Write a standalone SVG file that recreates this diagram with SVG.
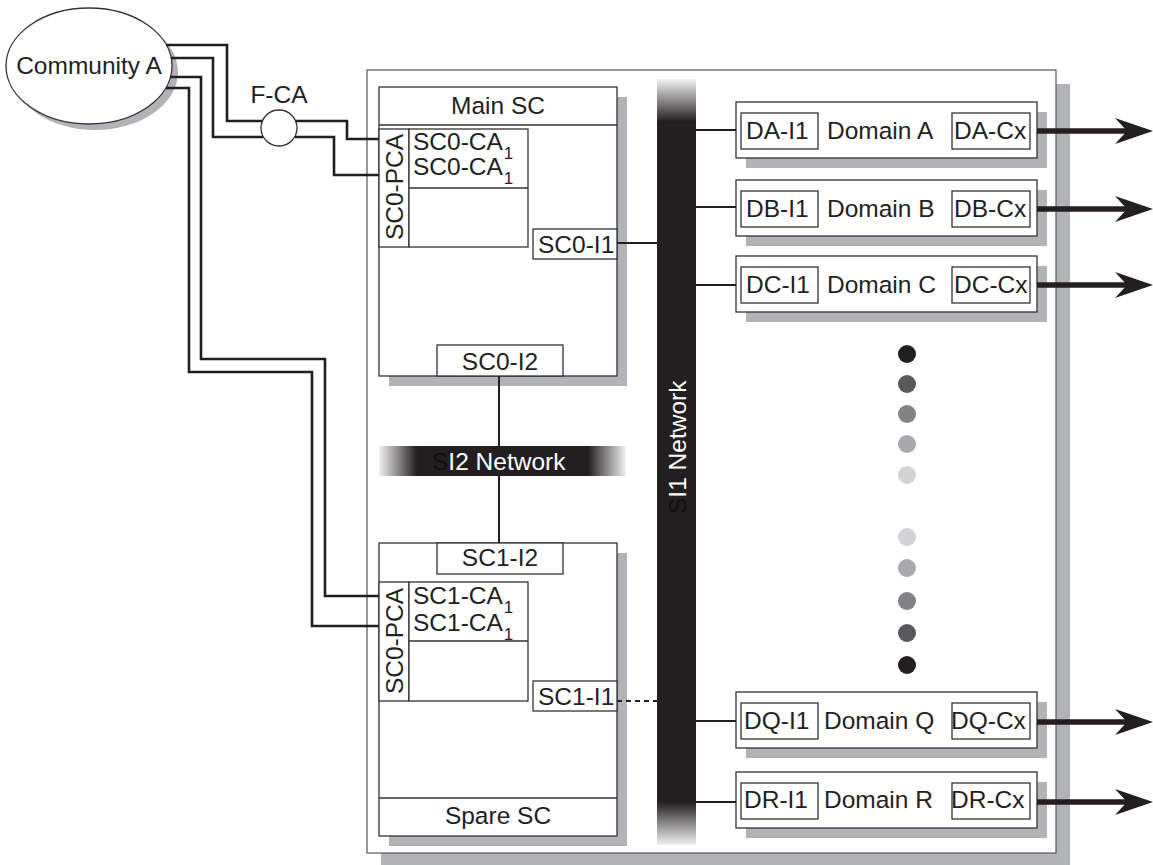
<svg xmlns="http://www.w3.org/2000/svg" width="1153" height="865" viewBox="0 0 1153 865">
<style>
text{font-family:"Liberation Sans",Arial,Helvetica,sans-serif;font-size:24.5px;fill:#231f20}
.box{fill:#fff;stroke:#333;stroke-width:1.3}
.sh{fill:#b1b3b6}
.wire{fill:none;stroke:#231f20;stroke-width:2.6}
.link{fill:none;stroke:#231f20;stroke-width:2}
.out{fill:none;stroke:#231f20;stroke-width:5.5}
.wt{fill:#fff}
.dk{fill:#111}
.mid{text-anchor:middle}
.sub{font-size:17px}
</style>
<defs>
<linearGradient id="g1" x1="0" y1="79" x2="0" y2="845" gradientUnits="userSpaceOnUse">
<stop offset="0" stop-color="#f2f2f2"/>
<stop offset="0.056" stop-color="#231f20"/>
<stop offset="0.944" stop-color="#231f20"/>
<stop offset="1" stop-color="#f2f2f2"/>
</linearGradient>
<linearGradient id="g2" x1="379" y1="0" x2="626" y2="0" gradientUnits="userSpaceOnUse">
<stop offset="0" stop-color="#f2f2f2"/>
<stop offset="0.154" stop-color="#231f20"/>
<stop offset="0.846" stop-color="#231f20"/>
<stop offset="1" stop-color="#f2f2f2"/>
</linearGradient>
<marker id="ah" markerUnits="userSpaceOnUse" markerWidth="40" markerHeight="30" viewBox="0 -15 40 30" refX="15" refY="0" orient="auto">
<path d="M0,-13 L38,0 L0,13 L12,0 z" fill="#231f20"/>
</marker>
</defs>

<g id="container">
<rect class="sh" x="381" y="84" width="689" height="783"/>
<rect x="367" y="70" width="689" height="783" fill="#fff" stroke="#555" stroke-width="1.2"/>
</g>

<g id="community-a">
<ellipse cx="95" cy="72" rx="83" ry="58" class="sh"/>
<ellipse cx="89" cy="66" rx="83" ry="58" class="box"/>
<text x="89" y="74" class="mid">Community A</text>
</g>

<g id="f-ca">
<circle cx="279" cy="128" r="18" class="box"/>
<text x="279" y="103" class="mid">F-CA</text>
</g>

<g id="main-sc">
<rect class="sh" x="389" y="97" width="238" height="289"/>
<rect class="box" x="379" y="87" width="238" height="289"/>
<line x1="379" y1="125" x2="617" y2="125" stroke="#333" stroke-width="1.3"/>
<text x="498" y="114" class="mid">Main SC</text>
<rect class="box" x="379" y="129" width="30" height="118"/>
<text transform="translate(403,187) rotate(-90)" class="mid">SC0-PCA</text>
<rect class="box" x="409" y="129" width="119" height="118"/>
<line x1="409" y1="188" x2="528" y2="188" stroke="#333" stroke-width="1.3"/>
<text x="413" y="150">SC0-CA<tspan class="sub" dx="1" dy="9">1</tspan></text>
<text x="413" y="175">SC0-CA<tspan class="sub" dx="1" dy="9">1</tspan></text>
<rect class="box" x="533" y="229" width="84" height="30"/>
<text x="538" y="253">SC0-I1</text>
<rect class="box" x="437" y="345" width="126" height="31"/>
<text x="500" y="370" class="mid">SC0-I2</text>
</g>

<g id="spare-sc">
<rect class="sh" x="389" y="553" width="238" height="293"/>
<rect class="box" x="379" y="543" width="238" height="293"/>
<line x1="379" y1="798" x2="617" y2="798" stroke="#333" stroke-width="1.3"/>
<text x="498" y="824" class="mid">Spare SC</text>
<rect class="box" x="437" y="543" width="126" height="31"/>
<text x="500" y="566" class="mid">SC1-I2</text>
<rect class="box" x="379" y="582" width="30" height="119"/>
<text transform="translate(403,641) rotate(-90)" class="mid">SC0-PCA</text>
<rect class="box" x="409" y="582" width="119" height="119"/>
<line x1="409" y1="641" x2="528" y2="641" stroke="#333" stroke-width="1.3"/>
<text x="413" y="604">SC1-CA<tspan class="sub" dx="1" dy="9">1</tspan></text>
<text x="413" y="631">SC1-CA<tspan class="sub" dx="1" dy="9">1</tspan></text>
<rect class="box" x="533" y="681" width="84" height="30"/>
<text x="538" y="705">SC1-I1</text>
</g>

<g id="si2-network">
<rect x="379" y="446" width="247" height="30" fill="url(#g2)"/>
<text x="432" y="470"><tspan class="dk">S</tspan><tspan class="wt">I2 Network</tspan></text>
</g>

<g id="si1-network">
<rect x="657" y="79" width="39" height="766" fill="url(#g1)"/>
<text transform="translate(686,514) rotate(-90)"><tspan class="dk">S</tspan><tspan class="wt">I1 Network</tspan></text>
</g>

<g id="domain-a">
<rect class="sh" x="746" y="112" width="301" height="56"/>
<rect class="box" x="736" y="102" width="301" height="56"/>
<rect class="box" x="741" y="113" width="77" height="36"/>
<rect class="box" x="952" y="113" width="78" height="36"/>
<text x="746" y="139">DA-I1</text>
<text x="827" y="139">Domain A</text>
<text x="954" y="139">DA-Cx</text>
</g>
<g id="domain-b">
<rect class="sh" x="746" y="190" width="301" height="56"/>
<rect class="box" x="736" y="180" width="301" height="56"/>
<rect class="box" x="741" y="191" width="77" height="36"/>
<rect class="box" x="952" y="191" width="78" height="36"/>
<text x="746" y="217">DB-I1</text>
<text x="827" y="217">Domain B</text>
<text x="954" y="217">DB-Cx</text>
</g>
<g id="domain-c">
<rect class="sh" x="746" y="266" width="301" height="56"/>
<rect class="box" x="736" y="256" width="301" height="56"/>
<rect class="box" x="741" y="267" width="77" height="36"/>
<rect class="box" x="952" y="267" width="78" height="36"/>
<text x="746" y="293">DC-I1</text>
<text x="827" y="293">Domain C</text>
<text x="954" y="293">DC-Cx</text>
</g>
<g id="domain-q">
<rect class="sh" x="746" y="702" width="301" height="56"/>
<rect class="box" x="736" y="692" width="301" height="56"/>
<rect class="box" x="741" y="703" width="77" height="36"/>
<rect class="box" x="952" y="703" width="78" height="36"/>
<text x="744" y="729">DQ-I1</text>
<text x="824" y="729">Domain Q</text>
<text x="951" y="729">DQ-Cx</text>
</g>
<g id="domain-r">
<rect class="sh" x="746" y="782" width="301" height="56"/>
<rect class="box" x="736" y="772" width="301" height="56"/>
<rect class="box" x="741" y="783" width="77" height="36"/>
<rect class="box" x="952" y="783" width="78" height="36"/>
<text x="744" y="808">DR-I1</text>
<text x="824" y="808">Domain R</text>
<text x="951" y="808">DR-Cx</text>
</g>

<g id="ellipsis-dots">
<circle cx="907" cy="354" r="9" fill="#231f20"/>
<circle cx="907" cy="384" r="9" fill="#58595b"/>
<circle cx="907" cy="414" r="9" fill="#808285"/>
<circle cx="907" cy="444" r="9" fill="#a7a9ac"/>
<circle cx="907" cy="475" r="9" fill="#d1d3d4"/>
<circle cx="907" cy="537" r="9" fill="#d1d3d4"/>
<circle cx="907" cy="568" r="9" fill="#a7a9ac"/>
<circle cx="907" cy="601" r="9" fill="#808285"/>
<circle cx="907" cy="633" r="9" fill="#58595b"/>
<circle cx="907" cy="665" r="9" fill="#231f20"/>
</g>

<g id="connectors">
<path class="wire" d="M166,45 H227 V121 H262"/>
<path class="wire" d="M296,121 H347 V139 H379"/>
<path class="wire" d="M171,58 H213 V137 H263"/>
<path class="wire" d="M295,137 H334 V175 H379"/>
<path class="wire" d="M170,77 H201 V359 H325 V596 H379"/>
<path class="wire" d="M166,88 H189 V372 H312 V626 H379"/>
<path class="link" d="M617,243 H657"/>
<path class="link" d="M499,376 V446"/>
<path class="link" d="M499,476 V543"/>
<path class="link" d="M617,701 H657" stroke-dasharray="5,4"/>
<path class="link" d="M696,130 H736"/>
<path class="link" d="M696,207 H736"/>
<path class="link" d="M696,285 H736"/>
<path class="link" d="M696,721 H736"/>
<path class="link" d="M696,802 H736"/>
<path class="out" d="M1037,131 H1130" marker-end="url(#ah)"/>
<path class="out" d="M1037,209 H1130" marker-end="url(#ah)"/>
<path class="out" d="M1037,285 H1130" marker-end="url(#ah)"/>
<path class="out" d="M1037,722 H1130" marker-end="url(#ah)"/>
<path class="out" d="M1037,802 H1130" marker-end="url(#ah)"/>
</g>
</svg>
